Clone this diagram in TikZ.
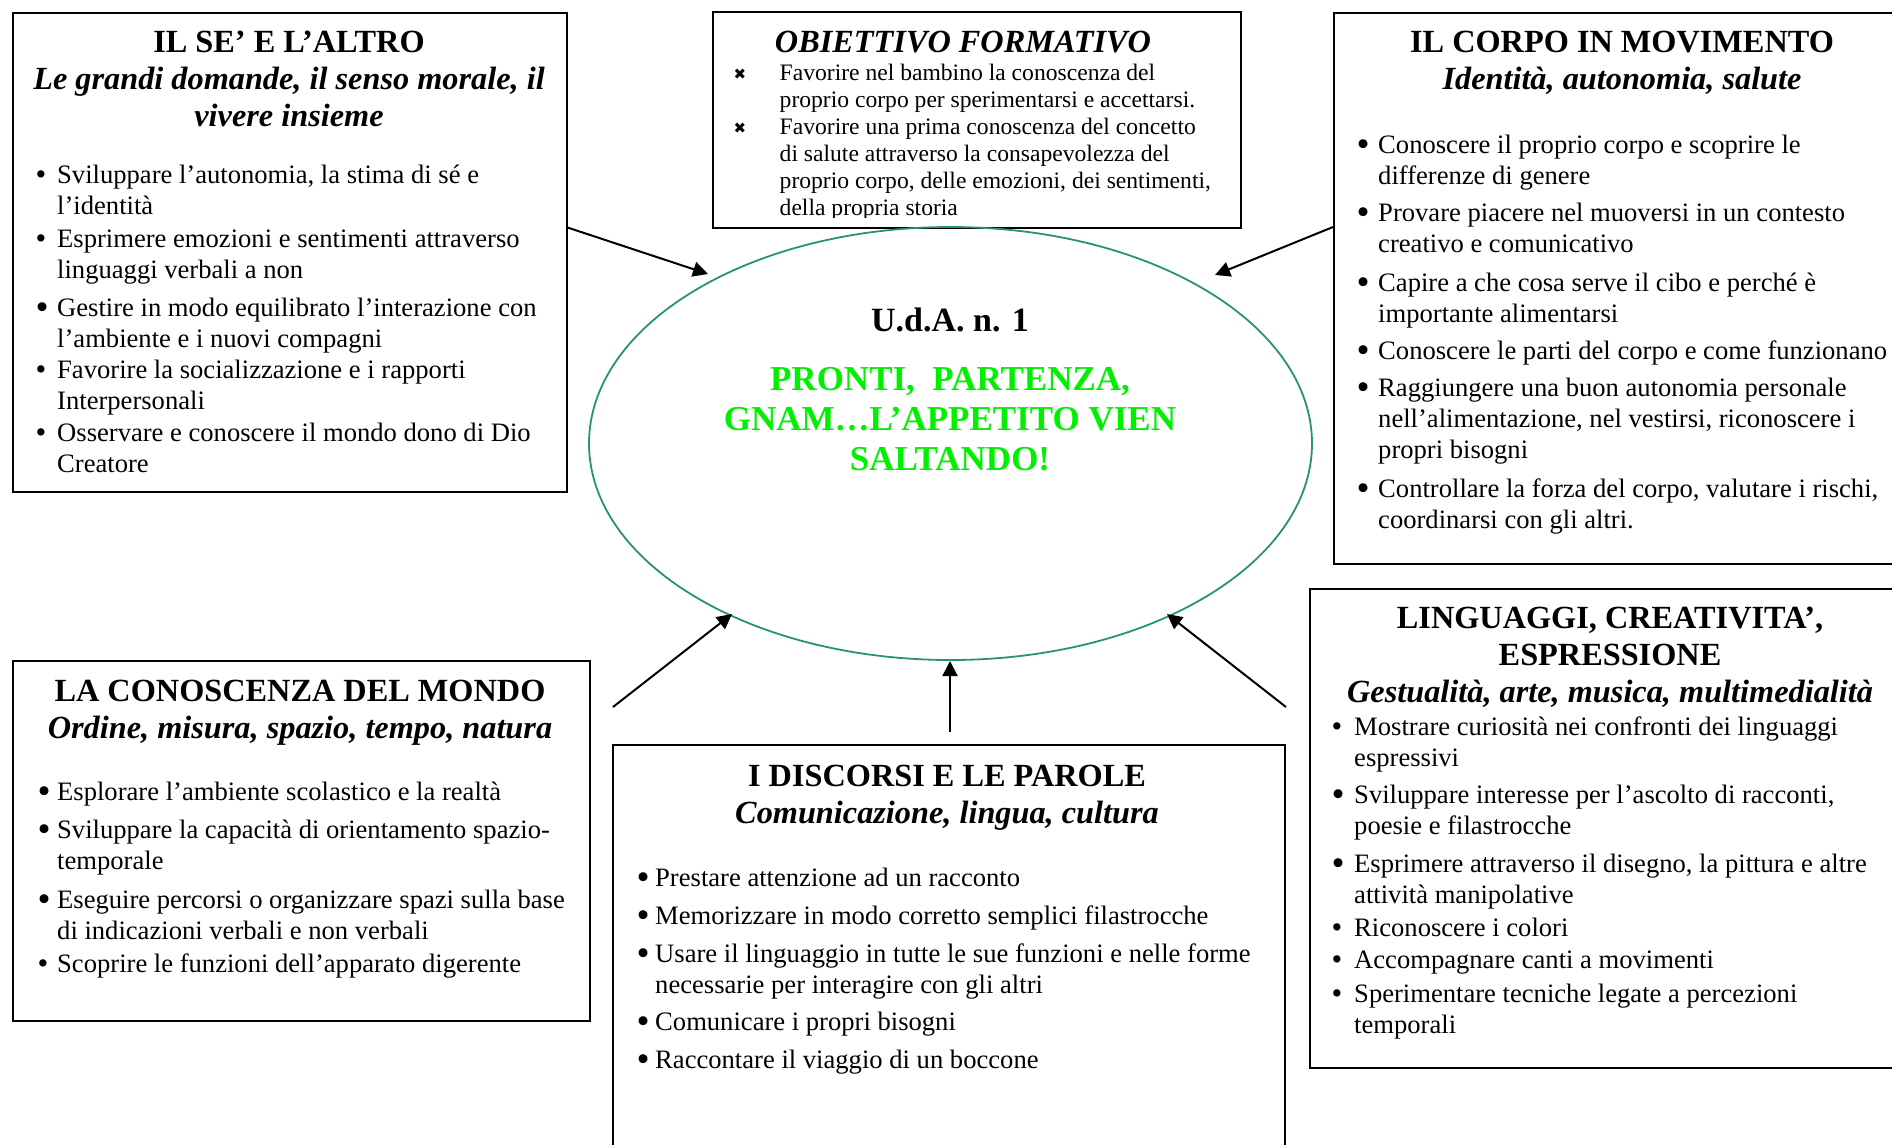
\documentclass[tikz,border=0pt]{standalone}
\usepackage{fontspec}
\setmainfont{Liberation Serif}
\newfontfamily\symfont{DejaVu Sans}
\usetikzlibrary{shapes.geometric,arrows.meta}
\definecolor{ellgreen}{RGB}{40,150,100}
\definecolor{brightgreen}{RGB}{0,240,0}
\newlength\bw
\newcommand\bulS{\makebox[\bw][l]{\raisebox{-0.04em}{\scalebox{1.15}{\textbullet}}}}
\newcommand\bulL{\makebox[\bw][l]{\raisebox{-0.12em}{\scalebox{1.4}{\textbullet}}}}
\newcommand\xmk{\makebox[\bw][l]{\hspace{-1.5pt}\raisebox{0.02em}{\symfont\fontsize{15}{15}\selectfont ✖}}}
\begin{document}
\begin{tikzpicture}[x=1pt,y=-1pt,
  box/.style={draw=black,line width=2pt,fill=white,anchor=north west,inner sep=0pt},
  body/.style={anchor=base west,inner sep=0pt,font=\fontsize{26.6}{31}\selectfont},
  objbody/.style={anchor=base west,inner sep=0pt,font=\fontsize{23.6}{27.1}\selectfont},
  ttl/.style={anchor=base,inner sep=0pt,font=\fontsize{32.3}{37}\selectfont\bfseries},
  udastyle/.style={anchor=base,inner sep=0pt,font=\fontsize{34}{40}\selectfont\bfseries},
  slogstyle/.style={anchor=base,inner sep=0pt,font=\fontsize{35}{40}\selectfont\bfseries},
  arr/.style={line width=2pt,-{Triangle[length=15pt,width=15pt]}}]
\useasboundingbox (0,0) rectangle (1892,1144);
\fill[white] (0,0) rectangle (1892,1144);

% ---------- boxes ----------
\node[box,minimum width=554pt,minimum height=479pt] (se) at (12,12) {};
\node[box,minimum width=528pt,minimum height=216pt] (obj) at (712,11) {};
\node[box,minimum width=578pt,minimum height=551pt] (corpo) at (1333,12) {};
\node[box,minimum width=577pt,minimum height=360pt] (mondo) at (12,660) {};
\node[box,minimum width=672pt,minimum height=430pt] (disc) at (612,744) {};
\node[box,minimum width=602pt,minimum height=479pt] (ling) at (1309,588) {};

% ---------- IL SE' E L'ALTRO ----------
\node[ttl] (seT) at (289,52) {\begin{tabular}[t]{@{}c@{}}IL SE’ E L’ALTRO\\
\textit{Le grandi domande, il senso morale, il}\\ \textit{vivere insieme}\end{tabular}};
\node[body] (seL) at (35.5,183) {\setlength\bw{21.5pt}\begin{tabular}[t]{@{}l@{}l@{}}
\bulS & Sviluppare l’autonomia, la stima di sé e\\
 & l’identità\\[2pt]
\bulS & Esprimere emozioni e sentimenti attraverso\\
 & linguaggi verbali a non\\[7pt]
\bulL & Gestire in modo equilibrato l’interazione con\\
 & l’ambiente e i nuovi compagni\\[0pt]
\bulS & Favorire la socializzazione e i rapporti\\
 & Interpersonali\\[1.5pt]
\bulS & Osservare e conoscere il mondo dono di Dio\\
 & Creatore
\end{tabular}};

% ---------- OBIETTIVO FORMATIVO ----------
\node[ttl,font=\fontsize{32.3}{37}\selectfont\bfseries\itshape] (objT) at (963,52) {OBIETTIVO FORMATIVO};
\begin{scope}
\clip (713,12) rectangle (1239,217);
\node[objbody] (objL) at (735,80) {\setlength\bw{44.5pt}\begin{tabular}[t]{@{}l@{}l@{}}
\xmk & Favorire nel bambino la conoscenza del\\
 & proprio corpo per sperimentarsi e accettarsi.\\
\xmk & Favorire una prima conoscenza del concetto\\
 & di salute attraverso la consapevolezza del\\
 & proprio corpo, delle emozioni, dei sentimenti,\\
 & della propria storia
\end{tabular}};
\end{scope}

% ---------- IL CORPO IN MOVIMENTO ----------
\node[ttl] (corpoT) at (1622,52) {\begin{tabular}[t]{@{}c@{}}IL CORPO IN MOVIMENTO\\
\textit{Identità, autonomia, salute}\end{tabular}};
\node[body] (corpoL) at (1356.5,153) {\setlength\bw{21.5pt}\begin{tabular}[t]{@{}l@{}l@{}}
\bulL & Conoscere il proprio corpo e scoprire le\\
 & differenze di genere\\[6.5pt]
\bulL & Provare piacere nel muoversi in un contesto\\
 & creativo e comunicativo\\[7.5pt]
\bulL & Capire a che cosa serve il cibo e perché è\\
 & importante alimentarsi\\[6pt]
\bulL & Conoscere le parti del corpo e come funzionano\\[6.5pt]
\bulL & Raggiungere una buon autonomia personale\\
 & nell’alimentazione, nel vestirsi, riconoscere i\\
 & propri bisogni\\[7.5pt]
\bulL & Controllare la forza del corpo, valutare i rischi,\\
 & coordinarsi con gli altri.
\end{tabular}};

% ---------- LA CONOSCENZA DEL MONDO ----------
\node[ttl] (mondoT) at (300,701) {\begin{tabular}[t]{@{}c@{}}LA CONOSCENZA DEL MONDO\\
\textit{Ordine, misura, spazio, tempo, natura}\end{tabular}};
\node[body] (mondoL) at (37.5,800) {\setlength\bw{19.5pt}\begin{tabular}[t]{@{}l@{}l@{}}
\bulL & Esplorare l’ambiente scolastico e la realtà\\[7.5pt]
\bulL & Sviluppare la capacità di orientamento spazio-\\
 & temporale\\[8pt]
\bulL & Eseguire percorsi o organizzare spazi sulla base\\
 & di indicazioni verbali e non verbali\\[1.5pt]
\bulS & Scoprire le funzioni dell’apparato digerente
\end{tabular}};

% ---------- I DISCORSI E LE PAROLE ----------
\node[ttl] (discT) at (947,786) {\begin{tabular}[t]{@{}c@{}}I DISCORSI E LE PAROLE\\
\textit{Comunicazione, lingua, cultura}\end{tabular}};
\node[body] (discL) at (636.5,886) {\setlength\bw{18.5pt}\begin{tabular}[t]{@{}l@{}l@{}}
\bulL & Prestare attenzione ad un racconto\\[7pt]
\bulL & Memorizzare in modo corretto semplici filastrocche\\[7pt]
\bulL & Usare il linguaggio in tutte le sue funzioni e nelle forme\\
 & necessarie per interagire con gli altri\\[6pt]
\bulL & Comunicare i propri bisogni\\[7pt]
\bulL & Raccontare il viaggio di un boccone
\end{tabular}};

% ---------- LINGUAGGI ----------
\node[ttl] (lingT) at (1610,628) {\begin{tabular}[t]{@{}c@{}}LINGUAGGI, CREATIVITA’,\\ ESPRESSIONE\\
\textit{Gestualità, arte, musica, multimedialità}\end{tabular}};
\node[body] (lingL) at (1331.5,735) {\setlength\bw{22.5pt}\begin{tabular}[t]{@{}l@{}l@{}}
\bulS & Mostrare curiosità nei confronti dei linguaggi\\
 & espressivi\\[6.5pt]
\bulL & Sviluppare interesse per l’ascolto di racconti,\\
 & poesie e filastrocche\\[7pt]
\bulL & Esprimere attraverso il disegno, la pittura e altre\\
 & attività manipolative\\[1.5pt]
\bulS & Riconoscere i colori\\[1.5pt]
\bulS & Accompagnare canti a movimenti\\[3pt]
\bulS & Sperimentare tecniche legate a percezioni\\
 & temporali
\end{tabular}};

% ---------- central ellipse ----------
\node[ellipse,draw=ellgreen,line width=1.8pt,minimum width=723pt,minimum height=433pt,inner sep=0pt] (uda) at (950.5,443.5) {};
\node[udastyle] (udaT) at (950,331) {U.d.A. n. 1};
\node[slogstyle,text=brightgreen] (slogan) at (950,390) {\begin{tabular}[t]{@{}c@{}}PRONTI,\ \ PARTENZA,\\
GNAM…L’APPETITO VIEN\\ SALTANDO!\end{tabular}};

% ---------- arrows ----------
\coordinate (a1s) at (566,227);  \coordinate (a1e) at (708,274);
\coordinate (a2s) at (1333,227); \coordinate (a2e) at (1215,275);
\coordinate (a3s) at (613,707);  \coordinate (a3e) at (732,614);
\coordinate (a4s) at (950,732);  \coordinate (a4e) at (950,661);
\coordinate (a5s) at (1286,707); \coordinate (a5e) at (1167,614);
\draw[arr] (a1s) -- (a1e);
\draw[arr] (a2s) -- (a2e);
\draw[arr] (a3s) -- (a3e);
\draw[arr] (a4s) -- (a4e);
\draw[arr] (a5s) -- (a5e);
\end{tikzpicture}
\end{document}
